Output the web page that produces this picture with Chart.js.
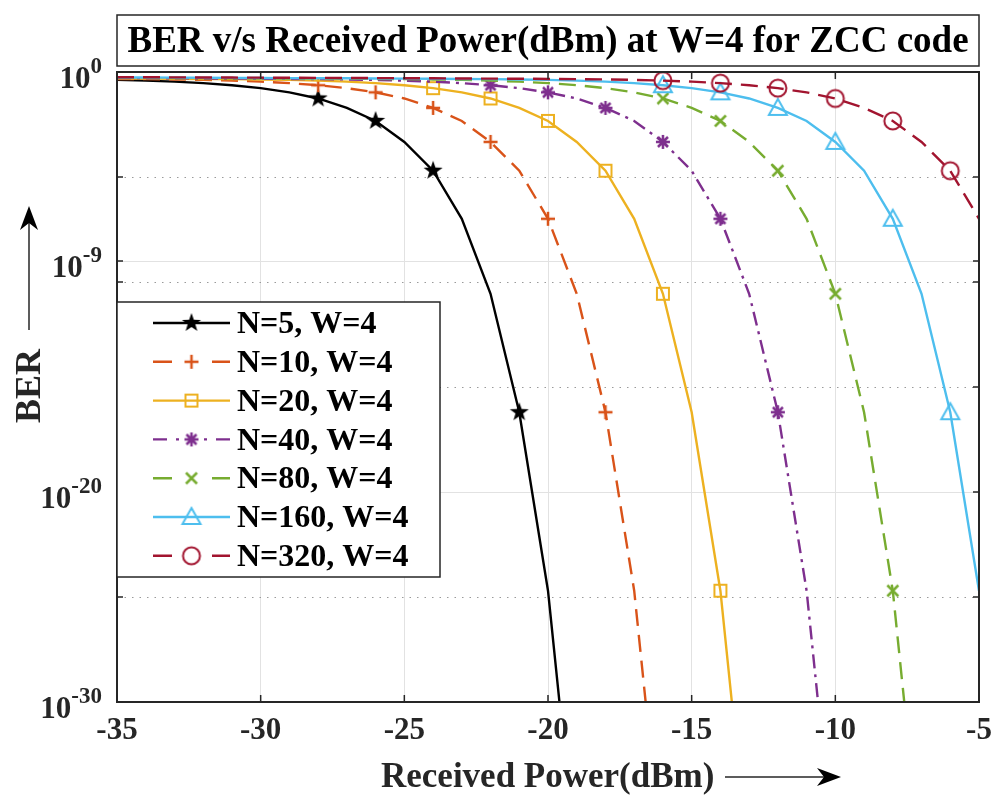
<!DOCTYPE html>
<html>
<head>
<meta charset="utf-8">
<script src="https://cdn.jsdelivr.net/npm/chart.js@4.4.0/dist/chart.umd.min.js"></script>
<style>
  html, body { margin: 0; padding: 0; background: #fff; }
  canvas { display: block; }
</style>
</head>
<body>
<canvas id="chart" width="993" height="796"></canvas>
<script>
// received power (dBm), one entry per data point
const power = [-35, -34, -33, -32, -31, -30, -29, -28, -27, -26, -25, -24, -23, -22, -21, -20,
  -19, -18, -17, -16, -15, -14, -13, -12, -11, -10, -9, -8, -7, -6, -5]

// log10(BER), starting at -35 dBm
const logBerN5 = [-0.375, -0.41, -0.46, -0.53, -0.63, -0.77, -0.97, -1.26, -1.71, -2.33, -3.33, -4.7,
  -6.99, -10.56, -16.2, -24.7, -38]
const logBerN10 = [-0.33, -0.34, -0.355, -0.375, -0.41, -0.46, -0.53, -0.63, -0.77, -0.97, -1.26, -1.71,
  -2.33, -3.33, -4.7, -6.99, -10.56, -16.2, -24.7, -38]
const logBerN20 = [-0.31, -0.315, -0.32, -0.33, -0.34, -0.355, -0.375, -0.41, -0.46, -0.53, -0.63, -0.77,
  -0.97, -1.26, -1.71, -2.33, -3.33, -4.7, -6.99, -10.56, -16.2, -24.7, -38]
const logBerN40 = [-0.29, -0.295, -0.3, -0.31, -0.315, -0.32, -0.33, -0.34, -0.355, -0.375, -0.41, -0.46,
  -0.53, -0.63, -0.77, -0.97, -1.26, -1.71, -2.33, -3.33, -4.7, -6.99, -10.56, -16.2, -24.7, -38]
const logBerN80 = [-0.275, -0.28, -0.285, -0.29, -0.295, -0.3, -0.31, -0.315, -0.32, -0.33, -0.34, -0.355,
  -0.375, -0.41, -0.46, -0.53, -0.63, -0.77, -0.97, -1.26, -1.71, -2.33, -3.33, -4.7, -6.99, -10.56,
  -16.2, -24.7, -38]
const logBerN160 = [-0.26, -0.265, -0.27, -0.275, -0.28, -0.285, -0.29, -0.295, -0.3, -0.31, -0.315, -0.32,
  -0.33, -0.34, -0.355, -0.375, -0.41, -0.46, -0.53, -0.63, -0.77, -0.97, -1.26, -1.71, -2.33, -3.33,
  -4.7, -6.99, -10.56, -16.2, -24.7]
const logBerN320 = [-0.25, -0.25, -0.255, -0.26, -0.265, -0.27, -0.275, -0.28, -0.285, -0.29, -0.295, -0.3,
  -0.31, -0.315, -0.32, -0.33, -0.34, -0.355, -0.375, -0.41, -0.46, -0.53, -0.63, -0.77, -0.97, -1.26,
  -1.71, -2.33, -3.33, -4.7, -6.99]

// where each curve carries a marker (dBm)
const marksN5 = [-28, -26, -24, -21]
const marksN10 = [-28, -26, -24, -22, -20, -18]
const marksN20 = [-24, -22, -20, -18, -16, -14]
const marksN40 = [-22, -20, -18, -16, -14, -12]
const marksN80 = [-16, -14, -12, -10, -8]
const marksN160 = [-16, -14, -12, -10, -8, -6]
const marksN320 = [-16, -14, -12, -10, -8, -6]

const seriesLabels = ['N=5, W=4', 'N=10, W=4', 'N=20, W=4', 'N=40, W=4', 'N=80, W=4', 'N=160, W=4', 'N=320, W=4']

const xTicks = [-35, -30, -25, -20, -15, -10, -5]
const yMajorTicks = [1, 1e-9, 1e-20, 1e-30]
const yMinorTicks = [1e-5, 1e-10, 1e-15, 1e-25]

const titleText = 'BER v/s Received Power(dBm) at W=4 for ZCC code'
const xTitle = 'Received Power(dBm)'
const yTitle = 'BER'

const FONT = '"Liberation Serif", "Times New Roman", serif'

function makeMarker(kind, color) {
  const size = 24
  const c = document.createElement('canvas')
  c.width = size
  c.height = size
  const g = c.getContext('2d')
  g.translate(size / 2, size / 2)
  g.strokeStyle = color
  g.fillStyle = color
  g.lineWidth = 2
  g.beginPath()
  if (kind === 'pentagram') {
    for (let i = 0; i < 10; i++) {
      const r = i % 2 === 0 ? 10 : 4
      const a = -Math.PI / 2 + i * Math.PI / 5
      g.lineTo(r * Math.cos(a), r * Math.sin(a))
    }
    g.closePath()
    g.fill()
  } else if (kind === 'plus') {
    g.lineWidth = 2.5
    g.moveTo(-7, 0); g.lineTo(7, 0)
    g.moveTo(0, -7); g.lineTo(0, 7)
    g.stroke()
  } else if (kind === 'square') {
    g.rect(-6, -6, 12, 12)
    g.stroke()
  } else if (kind === 'asterisk') {
    g.lineWidth = 2.5
    g.moveTo(-7, 0); g.lineTo(7, 0)
    g.moveTo(0, -7); g.lineTo(0, 7)
    g.moveTo(-5, -5); g.lineTo(5, 5)
    g.moveTo(-5, 5); g.lineTo(5, -5)
    g.stroke()
  } else if (kind === 'cross') {
    g.lineWidth = 2.5
    g.moveTo(-5.5, -5.5); g.lineTo(5.5, 5.5)
    g.moveTo(-5.5, 5.5); g.lineTo(5.5, -5.5)
    g.stroke()
  } else if (kind === 'triangle') {
    g.moveTo(0, -9); g.lineTo(9, 7); g.lineTo(-9, 7)
    g.closePath()
    g.stroke()
  } else if (kind === 'circle') {
    g.arc(0, 0, 8.5, 0, Math.PI * 2)
    g.stroke()
  }
  return c
}

const seriesStyle = [
  { values: logBerN5, marks: marksN5, color: '#000000', dash: [], marker: 'pentagram' },
  { values: logBerN10, marks: marksN10, color: '#D95319', dash: [17, 9], marker: 'plus' },
  { values: logBerN20, marks: marksN20, color: '#EDB120', dash: [], marker: 'square' },
  { values: logBerN40, marks: marksN40, color: '#7E2F8E', dash: [14, 6, 3, 6], marker: 'asterisk' },
  { values: logBerN80, marks: marksN80, color: '#77AC30', dash: [17, 9], marker: 'cross' },
  { values: logBerN160, marks: marksN160, color: '#4DBEEE', dash: [], marker: 'triangle' },
  { values: logBerN320, marks: marksN320, color: '#A2142F', dash: [17, 9], marker: 'circle' }
]

const datasets = seriesStyle.map((s, i) => ({
  label: seriesLabels[i],
  data: s.values.map((v, j) => ({ x: power[j], y: Math.pow(10, v) })),
  borderColor: s.color,
  borderWidth: 2.4,
  borderDash: s.dash,
  tension: 0,
  fill: false,
  order: seriesStyle.length - 1 - i,
  pointStyle: makeMarker(s.marker, s.color),
  pointRadius: (c) => (c.raw && s.marks.includes(c.raw.x) ? 6 : 0),
  pointHoverRadius: 0
}))

function drawArrow(ctx, x1, y1, x2, y2) {
  const ang = Math.atan2(y2 - y1, x2 - x1)
  ctx.save()
  ctx.strokeStyle = '#262626'
  ctx.fillStyle = '#000'
  ctx.lineWidth = 1.5
  ctx.beginPath()
  ctx.moveTo(x1, y1)
  ctx.lineTo(x2 - 10 * Math.cos(ang), y2 - 10 * Math.sin(ang))
  ctx.stroke()
  ctx.translate(x2, y2)
  ctx.rotate(ang)
  ctx.beginPath()
  ctx.moveTo(0, 0)
  ctx.lineTo(-24, -9)
  ctx.lineTo(-17, 0)
  ctx.lineTo(-24, 9)
  ctx.closePath()
  ctx.fill()
  ctx.restore()
}

const decorations = {
  id: 'decorations',
  beforeDatasetsDraw(chart) {
    const { ctx, chartArea: a, scales } = chart
    ctx.save()
    ctx.strokeStyle = '#9a9a9a'
    ctx.lineWidth = 1
    ctx.setLineDash([1.5, 6])
    yMinorTicks.forEach((v) => {
      const y = Math.round(scales.y.getPixelForValue(v)) + 0.5
      ctx.beginPath()
      ctx.moveTo(a.left, y)
      ctx.lineTo(a.right, y)
      ctx.stroke()
    })
    ctx.restore()
  },
  afterDraw(chart) {
    const { ctx, chartArea: a, scales } = chart
    ctx.save()

    // axes box with inward ticks
    ctx.strokeStyle = '#262626'
    ctx.lineWidth = 2
    ctx.strokeRect(a.left, a.top, a.right - a.left, a.bottom - a.top)
    ctx.lineWidth = 1.5
    ctx.beginPath()
    xTicks.forEach((v) => {
      const x = scales.x.getPixelForValue(v)
      ctx.moveTo(x, a.bottom); ctx.lineTo(x, a.bottom - 7)
      ctx.moveTo(x, a.top); ctx.lineTo(x, a.top + 7)
    })
    yMajorTicks.concat(yMinorTicks).forEach((v) => {
      const y = scales.y.getPixelForValue(v)
      ctx.moveTo(a.left, y); ctx.lineTo(a.left + 6, y)
      ctx.moveTo(a.right, y); ctx.lineTo(a.right - 6, y)
    })
    ctx.stroke()

    // y tick labels as 10^n
    ctx.fillStyle = '#262626'
    ctx.textBaseline = 'alphabetic'
    yMajorTicks.forEach((v) => {
      const y = scales.y.getPixelForValue(v)
      const exp = String(Math.round(Math.log10(v)))
      ctx.font = 'bold 23px ' + FONT
      const ew = ctx.measureText(exp).width
      ctx.font = 'bold 31px ' + FONT
      const bw = ctx.measureText('10').width
      const right = a.left - 15
      ctx.textAlign = 'left'
      ctx.fillText('10', right - ew - bw, y + 16)
      ctx.font = 'bold 23px ' + FONT
      ctx.fillText(exp, right - ew, y + 1)
    })

    // title box
    ctx.lineWidth = 1.5
    ctx.strokeStyle = '#262626'
    ctx.fillStyle = '#fff'
    ctx.fillRect(a.left, 15, a.right - a.left, 51)
    ctx.strokeRect(a.left, 15, a.right - a.left, 51)
    ctx.fillStyle = '#000'
    ctx.font = 'bold 37px ' + FONT
    ctx.textAlign = 'center'
    ctx.textBaseline = 'middle'
    ctx.fillText(titleText, (a.left + a.right) / 2, 42)

    // x axis title with arrow
    ctx.fillStyle = '#262626'
    ctx.font = 'bold 35px ' + FONT
    ctx.textAlign = 'left'
    ctx.textBaseline = 'alphabetic'
    ctx.fillText(xTitle, 381, 787)
    drawArrow(ctx, 725, 777, 841, 777)

    // y axis title with arrow
    ctx.save()
    ctx.translate(40, 386)
    ctx.rotate(-Math.PI / 2)
    ctx.font = 'bold 36px ' + FONT
    ctx.textAlign = 'center'
    ctx.fillText(yTitle, 0, 0)
    ctx.restore()
    drawArrow(ctx, 29, 330, 29, 206)

    // legend
    const lg = { left: a.left, top: 302, right: 440, bottom: 577 }
    ctx.fillStyle = '#fff'
    ctx.fillRect(lg.left, lg.top, lg.right - lg.left, lg.bottom - lg.top)
    ctx.strokeStyle = '#262626'
    ctx.lineWidth = 1.5
    ctx.strokeRect(lg.left, lg.top, lg.right - lg.left, lg.bottom - lg.top)
    chart.data.datasets.forEach((ds, i) => {
      const y = 323 + i * 38.8
      const x0 = 153
      const x1 = 230
      const xm = (x0 + x1) / 2
      ctx.strokeStyle = ds.borderColor
      ctx.lineWidth = ds.borderWidth
      ctx.setLineDash([])
      let segs = [[x0, x1]]
      if (ds.borderDash.length === 2) segs = [[x0, x0 + 19], [x1 - 18, x1]]
      if (ds.borderDash.length === 4) segs = [[x0, x0 + 14], [x0 + 23, x0 + 26], [x1 - 26, x1 - 23], [x1 - 14, x1]]
      ctx.beginPath()
      segs.forEach(([p, q]) => { ctx.moveTo(p, y); ctx.lineTo(q, y) })
      ctx.stroke()
      const img = ds.pointStyle
      ctx.drawImage(img, xm - img.width / 2, y - img.height / 2)
      ctx.fillStyle = '#000'
      ctx.font = 'bold 32px ' + FONT
      ctx.textAlign = 'left'
      ctx.textBaseline = 'middle'
      ctx.fillText(ds.label, 237, y + 2)
    })
    ctx.restore()
  }
}

new Chart(document.getElementById('chart'), {
  type: 'line',
  data: { datasets },
  options: {
    responsive: false,
    animation: false,
    layout: { padding: { left: 0, right: 14, top: 72, bottom: 0 } },
    plugins: {
      legend: { display: false },
      title: { display: false },
      tooltip: { enabled: false }
    },
    scales: {
      x: {
        type: 'linear',
        min: -35,
        max: -5,
        afterBuildTicks: (s) => { s.ticks = xTicks.map((v) => ({ value: v })) },
        afterFit: (s) => { s.height = 94; s.paddingLeft = 0; s.paddingRight = 0 },
        border: { display: false },
        grid: { color: '#e2e2e2', lineWidth: 1, drawTicks: false },
        ticks: {
          color: '#262626',
          padding: 10,
          maxRotation: 0,
          font: { family: FONT, size: 31, weight: 'bold' }
        }
      },
      y: {
        type: 'logarithmic',
        min: 1e-30,
        max: 1,
        afterBuildTicks: (s) => { s.ticks = yMajorTicks.map((v) => ({ value: v })) },
        afterFit: (s) => { s.width = 117; s.paddingTop = 0; s.paddingBottom = 0 },
        border: { display: false },
        grid: { color: '#e2e2e2', lineWidth: 1, drawTicks: false },
        ticks: { display: false }
      }
    }
  },
  plugins: [decorations]
})
</script>
</body>
</html>
